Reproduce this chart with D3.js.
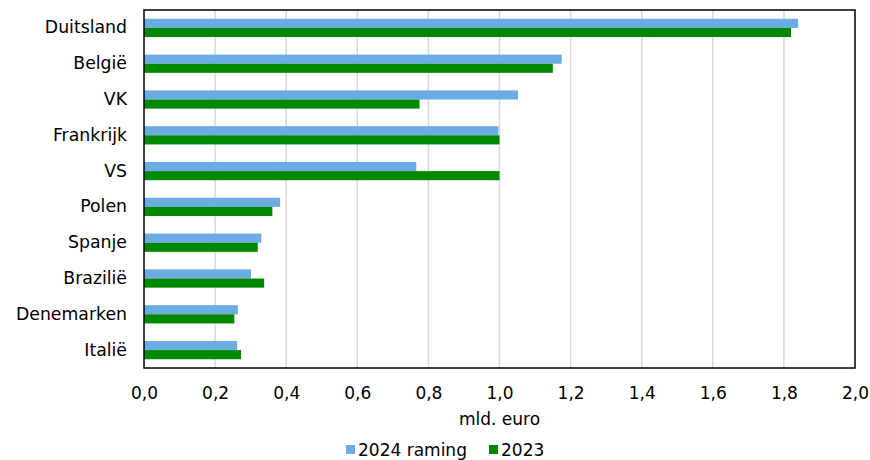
<!DOCTYPE html>
<html><head><meta charset="utf-8">
<script src="https://cdn.jsdelivr.net/npm/d3@7"></script>
<style>body{margin:0;background:#fff}text{font-family:"DejaVu Sans",Verdana,sans-serif;fill:#000}</style>
</head><body><svg id="c" width="870" height="460"></svg>
<script>
const categories = ["Duitsland","België","VK","Frankrijk","VS","Polen","Spanje","Brazilië","Denemarken","Italië"];
const raming2024 = [1.84,1.175,1.052,0.997,0.766,0.383,0.330,0.301,0.264,0.262];
const values2023 = [1.82,1.150,0.775,1.0,1.0,0.361,0.320,0.338,0.254,0.273];
const xTicks = [0,0.2,0.4,0.6,0.8,1.0,1.2,1.4,1.6,1.8,2.0];
const seriesNames = ["2024 raming","2023"];
const colors = ["#6aace3","#008800"];

const svg = d3.select("#c");
const m = {l:144,r:855,t:10,b:368};
const x = d3.scaleLinear().domain([0,2]).range([m.l,m.r]);
const y = d3.scaleBand().domain(categories).range([m.t,m.b]).paddingInner(0.49).paddingOuter(0.245);
const sub = d3.scaleBand().domain([0,1]).range([0,y.bandwidth()]);
const fmt = d => d3.format(".1f")(d).replace(".",",");

// gridlines
svg.append("g").selectAll("line").data(xTicks.slice(1,-1)).join("line")
  .attr("x1",d=>x(d)).attr("x2",d=>x(d)).attr("y1",m.t).attr("y2",m.b)
  .attr("stroke","#d9d9d9").attr("stroke-width",1.5);

const series = [raming2024, values2023];
series.forEach((vals,si)=>{
  svg.append("g").selectAll("rect").data(categories).join("rect")
    .attr("x",x(0)).attr("y",(d)=>y(d)+sub(si))
    .attr("width",(d,i)=>x(vals[i])-x(0)).attr("height",sub.bandwidth())
    .attr("fill",colors[si]);
});

// frame
svg.append("rect").attr("x",m.l).attr("y",m.t).attr("width",m.r-m.l).attr("height",m.b-m.t)
  .attr("fill","none").attr("stroke","#000").attr("stroke-width",1.5);

// axes
const xa = svg.append("g").attr("transform",`translate(0,${m.b})`)
  .call(d3.axisBottom(x).tickValues(xTicks).tickFormat(fmt).tickSize(0).tickPadding(19));
xa.select(".domain").remove();
xa.selectAll("text").style("font-size","17px");

const ya = svg.append("g").attr("transform",`translate(${m.l},0)`)
  .call(d3.axisLeft(y).tickSize(0).tickPadding(17));
ya.select(".domain").remove();
ya.selectAll("text").style("font-size","17.3px");

svg.append("text").attr("x",(m.l+m.r)/2).attr("y",425).attr("text-anchor","middle")
  .style("font-size","17px").text("mld. euro");

// legend
const leg = svg.append("g");
const lx = [346,489];
seriesNames.forEach((n,i)=>{
  leg.append("rect").attr("x",lx[i]).attr("y",445).attr("width",9).attr("height",9).attr("fill",colors[i]);
  leg.append("text").attr("x",lx[i]+12).attr("y",456).style("font-size","17px").text(n);
});
</script></body></html>
